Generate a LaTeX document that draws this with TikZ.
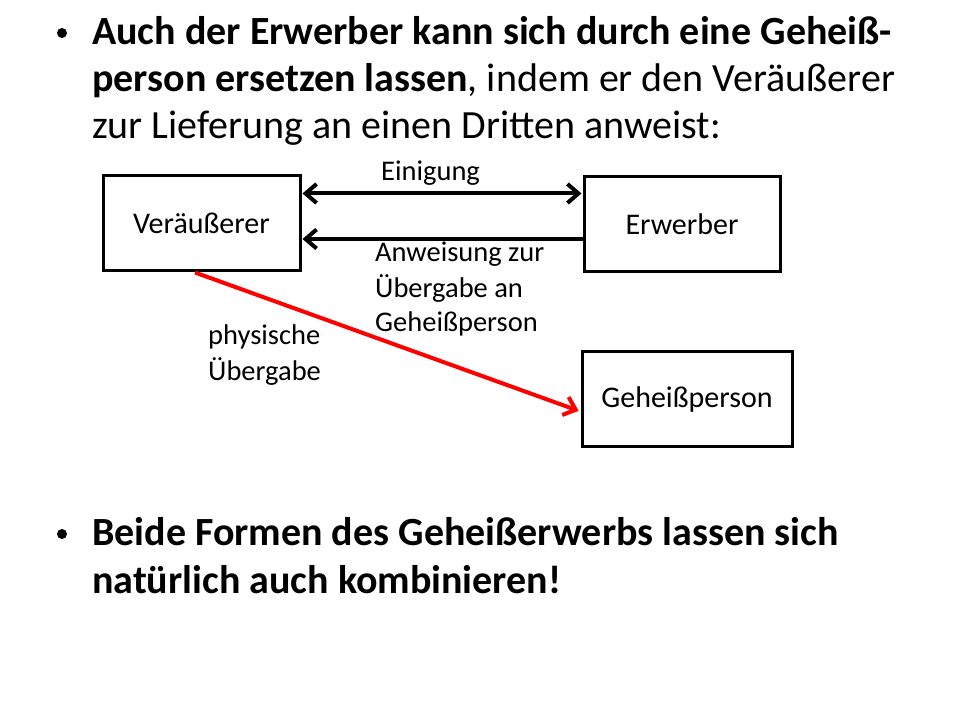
\documentclass[tikz,border=0pt]{standalone}
\usepackage{fontspec}
\setmainfont{Carlito}
\usetikzlibrary{arrows.meta}
\begin{document}
\begin{tikzpicture}[x=1pt,y=1pt,
  box/.style={draw=black,line width=3pt,minimum width=#1,minimum height=95pt,inner sep=0pt,font=\fontsize{30}{34}\selectfont},
  lbl/.style={anchor=base west,inner sep=0pt,font=\fontsize{28.5}{32}\selectfont},
  big/.style={anchor=base west,inner sep=0pt,font=\fontsize{40}{47}\selectfont},
  tip/.style={Straight Barb[length=11pt,width=19pt,line width=4pt]},
  conn/.style={line width=4pt,-{Straight Barb[length=11pt,width=19pt,line width=4pt]}},
  bul/.style={circle,fill=black,inner sep=0pt,minimum size=10pt}
]
\useasboundingbox (0,0) rectangle (960,720);
% top bullet
\node[bul] (b1) at (62,687) {};
\node[big] (t1) at (92,675) {\textbf{Auch der Erwerber kann sich durch eine Geheiß-}};
\node[big] (t2) at (92,628) {\textbf{person ersetzen lassen}, indem er den Veräußerer};
\node[big] (t3) at (92,581) {zur Lieferung an einen Dritten anweist:};
% boxes
\node[box=197pt] (v) at (201.5,496.5) {Veräußerer};
\node[box=196pt] (e) at (682,496) {Erwerber};
\node[box=210pt] (g) at (687,320.5) {Geheißperson};
% connectors
\draw[line width=4pt,{Straight Barb[length=11pt,width=19pt,line width=4pt]}-{Straight Barb[length=11pt,width=19pt,line width=4pt]},shorten <=1pt,shorten >=1pt] ([yshift=30pt]v.east) -- ([yshift=30pt]v.east -| e.west);
\draw[conn,shorten >=1pt] ([yshift=-15pt]e.west) -- ([yshift=-15pt]e.west -| v.east);
\coordinate (rs) at (195,449);
\draw[line width=4pt,red,-{Straight Barb[length=11pt,width=19pt,line width=4pt]},shorten >=2pt] (v.south -| rs) -- ([yshift=-12pt]g.west);
% labels
\node[lbl] (l1) at (381,539) {Einigung};
\node[lbl] (l2) at (375,458) {Anweisung zur};
\node[lbl] (l3) at (375,422) {Übergabe an};
\node[lbl] (l4) at (375,388) {Geheißperson};
\node[lbl] (l5) at (208,375) {physische};
\node[lbl] (l6) at (208,339) {Übergabe};
% bottom bullet
\node[bul] (b2) at (62,186) {};
\node[big] (t4) at (92,174) {\textbf{Beide Formen des Geheißerwerbs lassen sich}};
\node[big] (t5) at (92,127) {\textbf{natürlich auch kombinieren!}};
\end{tikzpicture}
\end{document}
